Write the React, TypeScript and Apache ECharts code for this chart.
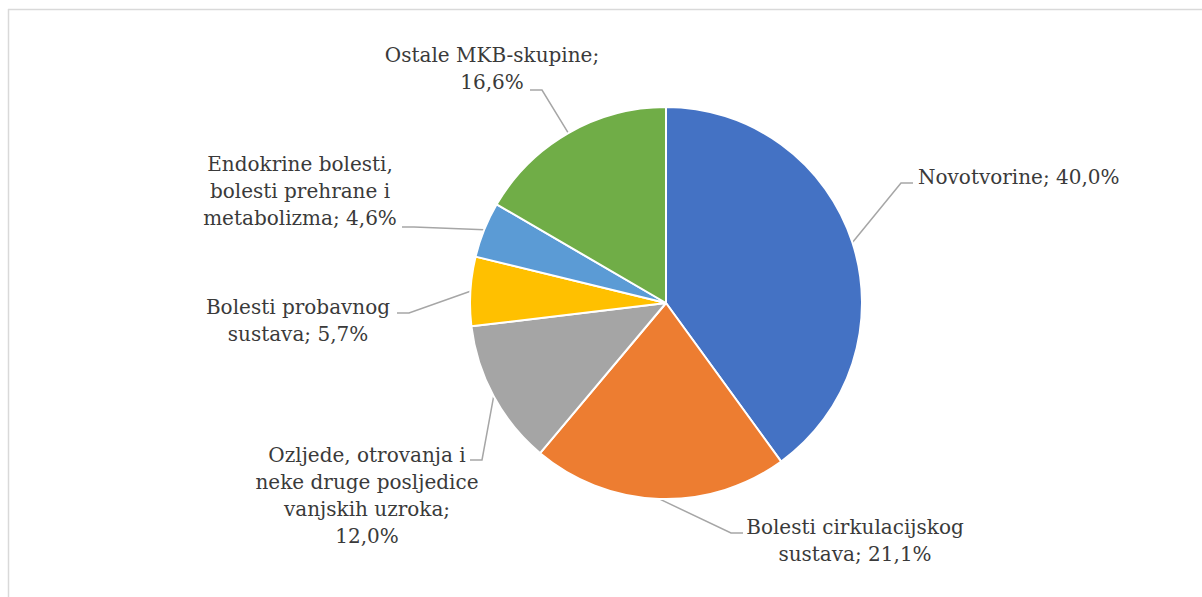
import React, { useEffect, useRef } from "react";
import * as echarts from "echarts";

const categories = [
  "Novotvorine",
  "Bolesti cirkulacijskog sustava",
  "Ozljede, otrovanja i neke druge posljedice vanjskih uzroka",
  "Bolesti probavnog sustava",
  "Endokrine bolesti, bolesti prehrane i metabolizma",
  "Ostale MKB-skupine",
];
const labelTexts = [
  "Novotvorine; {v}",
  "Bolesti cirkulacijskog\nsustava; {v}",
  "Ozljede, otrovanja i\nneke druge posljedice\nvanjskih uzroka;\n{v}",
  "Bolesti probavnog\nsustava; {v}",
  "Endokrine bolesti,\nbolesti prehrane i\nmetabolizma; {v}",
  "Ostale MKB-skupine;\n{v}",
];
const values = [40.0, 21.1, 12.0, 5.7, 4.6, 16.6];
const colors = ["#4472C4", "#ED7D31", "#A5A5A5", "#FFC000", "#5B9BD5", "#70AD47"];

// label placement (layout only): text anchor and leader-line end
const labelLayouts = [
  { x: 918, y: 177, align: "left", endX: 913, endY: 183, dir: -1 },
  { x: 855, y: 540, align: "center", endX: 743, endY: 533, dir: -1 },
  { x: 367, y: 495, align: "center", endX: 470, endY: 460, dir: 1 },
  { x: 298, y: 320, align: "center", endX: 397, endY: 313, dir: 1 },
  { x: 300, y: 191, align: "center", endX: 402, endY: 227, dir: 1 },
  { x: 492, y: 68, align: "center", endX: 530, endY: 90, dir: 1 },
];

const fmt = (v: number) => v.toFixed(1).replace(".", ",") + "%";

export default function App() {
  const ref = useRef<HTMLDivElement>(null);
  useEffect(() => {
    if (!ref.current) return;
    const chart = echarts.init(ref.current, null, { renderer: "svg" });
    chart.setOption({
      animation: false,
      backgroundColor: "#ffffff",
      graphic: [
        {
          type: "line",
          shape: { x1: 8, y1: 9.5, x2: 1202, y2: 9.5 },
          style: { stroke: "#D9D9D9", lineWidth: 1.5 },
          silent: true,
        },
        {
          type: "line",
          shape: { x1: 8.5, y1: 9, x2: 8.5, y2: 597 },
          style: { stroke: "#D9D9D9", lineWidth: 1.5 },
          silent: true,
        },
      ],
      series: [
        {
          type: "pie",
          center: [666, 303],
          radius: 196,
          startAngle: 90,
          clockwise: true,
          data: categories.map((name, i) => ({
            name,
            value: values[i],
            itemStyle: { color: colors[i] },
          })),
          itemStyle: { borderColor: "#ffffff", borderWidth: 2 },
          label: {
            show: true,
            position: "outside",
            formatter: (p: any) => labelTexts[p.dataIndex].replace("{v}", fmt(p.value)),
            fontFamily: "DejaVu Serif",
            fontSize: 20,
            lineHeight: 27,
            color: "#3A3A3A",
          },
          labelLine: {
            show: true,
            length: 20,
            length2: 10,
            lineStyle: { color: "#A6A6A6", width: 1.5 },
          },
          labelLayout: (params: any) => {
            const L = labelLayouts[params.dataIndex];
            const p0 = params.labelLinePoints ? params.labelLinePoints[0] : [L.endX, L.endY];
            return {
              x: L.x,
              y: L.y,
              align: L.align,
              verticalAlign: "middle",
              labelLinePoints: [
                p0,
                [L.endX + L.dir * 12, L.endY],
                [L.endX, L.endY],
              ],
            };
          },
        },
      ],
    });
    return () => chart.dispose();
  }, []);
  return (
    <div
      ref={ref}
      style={{ position: "absolute", left: 0, top: 0, width: 1202, height: 597 }}
    />
  );
}
